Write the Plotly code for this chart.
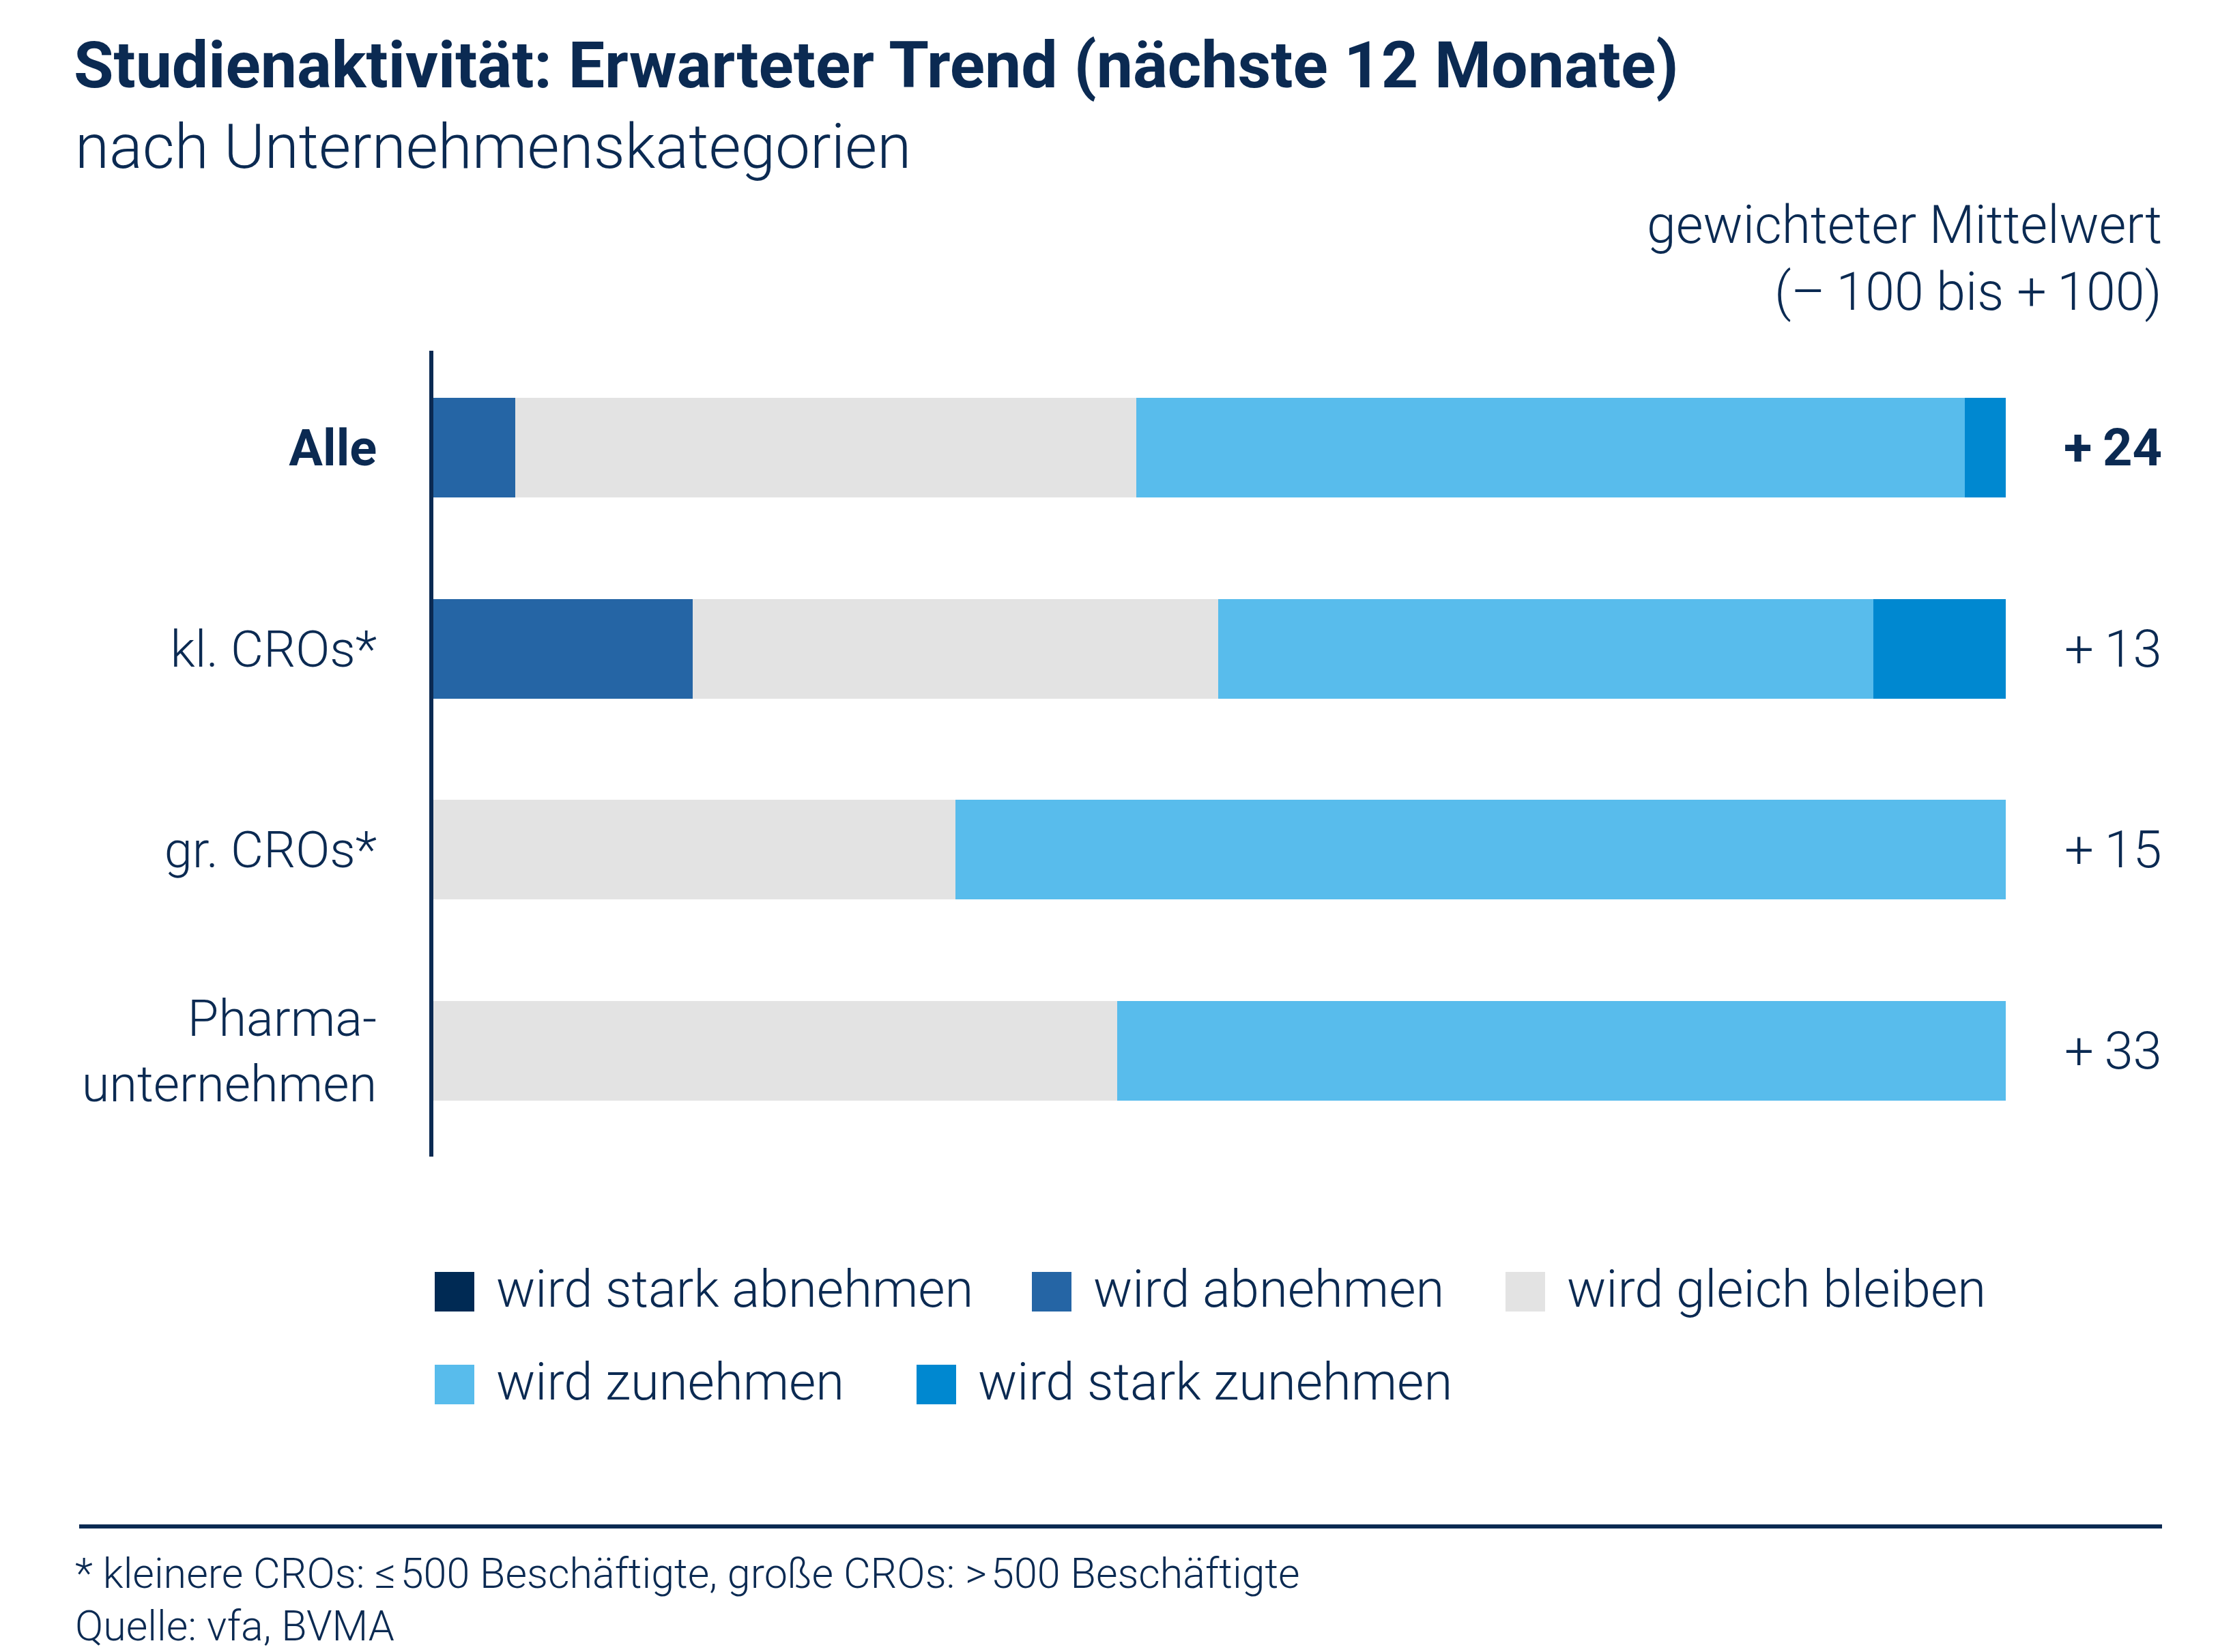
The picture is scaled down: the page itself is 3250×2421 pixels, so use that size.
import plotly.graph_objects as go

# ---- data ----
categories = ["Alle", "kl. CROs*", "gr. CROs*", "Pharma-<br>unternehmen"]
series_names = ["wird stark abnehmen", "wird abnehmen", "wird gleich bleiben",
                "wird zunehmen", "wird stark zunehmen"]
stark_abnehmen = [0.0, 0.0, 0.0, 0.0]
abnehmen = [5.2, 16.5, 0.0, 0.0]
gleich = [39.5, 33.4, 33.2, 43.5]
zunehmen = [52.7, 41.7, 66.8, 56.5]
stark_zunehmen = [2.6, 8.4, 0.0, 0.0]
mittelwert = [24, 13, 15, 33]

colors = ["#002a54", "#2565a5", "#e3e3e3", "#58bcec", "#0088d0"]
NAVY = "#0b2a52"
FONT = "Roboto, Liberation Sans, sans-serif"
LIGHT = 300

W, H = 3250, 2421
X0, X1 = 627, 2931
YT, YB = 506, 1687


def xp(px):
    return (px - X0) / (X1 - X0)


def yp(py):
    return (YB - py) / (YB - YT)


series = [stark_abnehmen, abnehmen, gleich, zunehmen, stark_zunehmen]
fig = go.Figure()
for name, vals, col in zip(series_names, series, colors):
    fig.add_trace(go.Bar(
        y=categories, x=vals, name=name, orientation="h",
        marker=dict(color=col, line=dict(width=0)),
        width=0.495, showlegend=False, hoverinfo="x+name",
    ))

fig.update_layout(
    barmode="stack",
    width=W, height=H,
    margin=dict(l=X0, r=W - X1, t=YT, b=H - YB, pad=0),
    paper_bgcolor="white", plot_bgcolor="white",
    font=dict(family=FONT, color=NAVY, size=76, weight=LIGHT),
    xaxis=dict(range=[0, 100], visible=False, fixedrange=True),
    yaxis=dict(
        type="category",
        range=[3.526, -0.482],
        showline=True, linecolor=NAVY, linewidth=6,
        showgrid=False, zeroline=False,
        ticks="", tickfont=dict(size=74, color=NAVY, family=FONT, weight=LIGHT),
        tickmode="array", tickvals=categories,
        ticktext=["<b>Alle</b>"] + categories[1:],
        ticklabelstandoff=62,
    ),
)

# weighted mean values
for i, (cat, v) in enumerate(zip(categories, mittelwert)):
    txt = "+\u2009" + str(v)
    if i == 0:
        txt = "<b>" + txt + "</b>"
    fig.add_annotation(x=xp(3162), xref="paper", y=cat, yref="y",
                       text=txt, showarrow=False, xanchor="right",
                       yanchor="middle",
                       font=dict(size=76, color=NAVY, weight=LIGHT))

# titles
fig.add_annotation(x=xp(98), y=yp(88), xref="paper", yref="paper",
                   text="<b>Studienaktivität: Erwarteter Trend (nächste 12 Monate)</b>",
                   showarrow=False, xanchor="left", yanchor="middle",
                   font=dict(size=95, color=NAVY, weight=LIGHT))
fig.add_annotation(x=xp(100), y=yp(207), xref="paper", yref="paper",
                   text="nach Unternehmenskategorien",
                   showarrow=False, xanchor="left", yanchor="middle",
                   font=dict(size=91, color=NAVY, weight=LIGHT))
fig.add_annotation(x=xp(3162), y=yp(322), xref="paper", yref="paper",
                   text="gewichteter Mittelwert",
                   showarrow=False, xanchor="right", yanchor="middle",
                   font=dict(size=77, color=NAVY, weight=LIGHT))
fig.add_annotation(x=xp(3162), y=yp(420), xref="paper", yref="paper",
                   text="(\u2013\u2009100 bis +\u2009100)",
                   showarrow=False, xanchor="right", yanchor="middle",
                   font=dict(size=77, color=NAVY, weight=LIGHT))

# manual legend
legend_pos = [(629, 1885), (1504, 1885), (2198, 1885), (629, 2021), (1335, 2021)]
SQ = 58
for (lx, ly), name, col in zip(legend_pos, series_names, colors):
    fig.add_shape(type="rect", xref="paper", yref="paper",
                  x0=xp(lx), x1=xp(lx + SQ), y0=yp(ly + SQ / 2), y1=yp(ly - SQ / 2),
                  fillcolor=col, line=dict(width=0))
    fig.add_annotation(x=xp(lx + SQ + 30), y=yp(ly - 4), xref="paper", yref="paper",
                       text=name, showarrow=False, xanchor="left", yanchor="middle",
                       font=dict(size=76, color=NAVY, weight=LIGHT))

# rule and footnotes
fig.add_shape(type="line", xref="paper", yref="paper",
              x0=xp(108), x1=xp(3160), y0=yp(2229), y1=yp(2229),
              line=dict(color=NAVY, width=6))
fig.add_annotation(x=xp(100), y=yp(2298), xref="paper", yref="paper",
                   text="* kleinere CROs: \u2264\u200a500 Beschäftigte, große CROs: >\u200a500 Beschäftigte",
                   showarrow=False, xanchor="left", yanchor="middle",
                   font=dict(size=61, color=NAVY, weight=LIGHT))
fig.add_annotation(x=xp(100), y=yp(2375), xref="paper", yref="paper",
                   text="Quelle: vfa, BVMA",
                   showarrow=False, xanchor="left", yanchor="middle",
                   font=dict(size=61, color=NAVY, weight=LIGHT))

fig.write_html("out.html")
